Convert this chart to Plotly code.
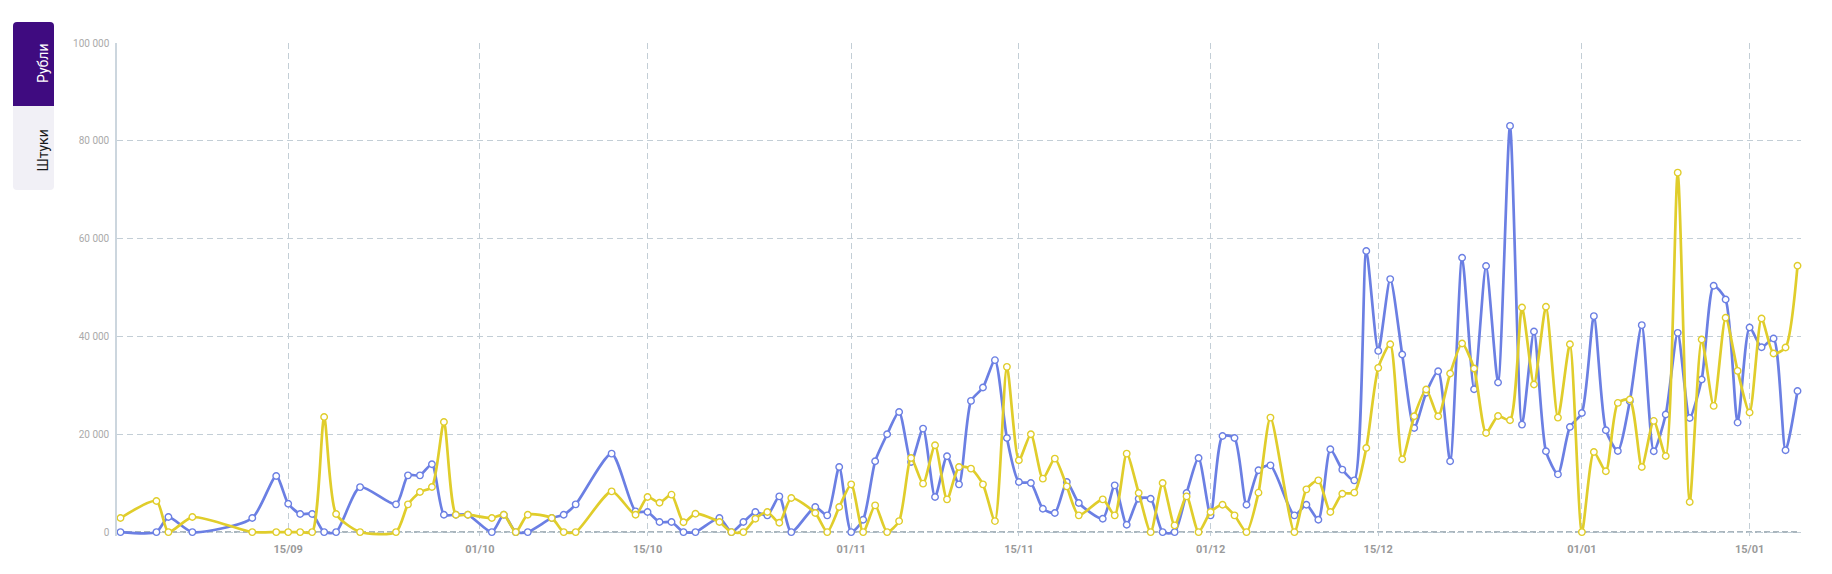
import plotly.graph_objects as go

dates = [
    "2023-09-01", "2023-09-04", "2023-09-05", "2023-09-07", "2023-09-12", "2023-09-14", "2023-09-15",
    "2023-09-16", "2023-09-17", "2023-09-18", "2023-09-19", "2023-09-21", "2023-09-24", "2023-09-25",
    "2023-09-26", "2023-09-27", "2023-09-28", "2023-09-29", "2023-09-30",
    "2023-10-02", "2023-10-03", "2023-10-04", "2023-10-05", "2023-10-07", "2023-10-08", "2023-10-09",
    "2023-10-12", "2023-10-14", "2023-10-15", "2023-10-16", "2023-10-17", "2023-10-18", "2023-10-19",
    "2023-10-21", "2023-10-22", "2023-10-23", "2023-10-24", "2023-10-25", "2023-10-26", "2023-10-27",
    "2023-10-29", "2023-10-30", "2023-10-31",
    "2023-11-01", "2023-11-02", "2023-11-03", "2023-11-04", "2023-11-05", "2023-11-06", "2023-11-07",
    "2023-11-08", "2023-11-09", "2023-11-10", "2023-11-11", "2023-11-12", "2023-11-13", "2023-11-14",
    "2023-11-15", "2023-11-16", "2023-11-17", "2023-11-18", "2023-11-19", "2023-11-20", "2023-11-22",
    "2023-11-23", "2023-11-24", "2023-11-25", "2023-11-26", "2023-11-27", "2023-11-28", "2023-11-29",
    "2023-11-30",
    "2023-12-01", "2023-12-02", "2023-12-03", "2023-12-04", "2023-12-05", "2023-12-06", "2023-12-08",
    "2023-12-09", "2023-12-10", "2023-12-11", "2023-12-12", "2023-12-13", "2023-12-14", "2023-12-15",
    "2023-12-16", "2023-12-17", "2023-12-18", "2023-12-19", "2023-12-20", "2023-12-21", "2023-12-22",
    "2023-12-23", "2023-12-24", "2023-12-25", "2023-12-26", "2023-12-27", "2023-12-28", "2023-12-29",
    "2023-12-30", "2023-12-31",
    "2024-01-01", "2024-01-02", "2024-01-03", "2024-01-04", "2024-01-05", "2024-01-06", "2024-01-07",
    "2024-01-08", "2024-01-09", "2024-01-10", "2024-01-11", "2024-01-12", "2024-01-13", "2024-01-14",
    "2024-01-15", "2024-01-16", "2024-01-17", "2024-01-18", "2024-01-19",
]

blue_values = [
    0, 0, 3070, 0, 2870, 11460, 5800, 3700, 3700, 0, 0, 9200, 5670, 11600, 11600, 13860, 3560, 3560, 3560,
    0, 3560, 0, 0, 2870, 3560, 5670, 16040, 4240, 4100, 2050, 2050, 0, 0, 2870, 0, 2050, 4100, 3420,
    7300, 0, 5120, 3420, 13300,
    0, 2530, 14470, 20000, 24560, 14330, 21160, 7170, 15500, 9760, 26820, 29550, 35150, 19240, 10240,
    10030, 4780, 3890, 10240, 5940, 2730, 9560, 1500, 6830, 6830, 0, 0, 7990, 15150,
    3420, 19650, 19240, 5600, 12630, 13650, 3420, 5600, 2530, 16930, 12770, 10580, 57460, 37050,
    51730, 36310, 21290, 28500, 32900, 14470, 56090, 29210, 54390, 30580, 83050, 21980, 41000, 16520,
    11810, 21500,
    24360, 44150, 20820, 16580, 26750, 42310, 16520, 24030, 40740, 23340, 31190, 50360, 47570, 22390,
    41840, 37800, 39580, 16720, 28860,
]

yellow_values = [
    2870, 6350, 0, 3070, 0, 0, 0, 0, 0, 23540, 3700, 0, 0, 5670, 8190, 9210, 22520, 3560, 3560,
    2870, 3560, 0, 3560, 2870, 0, 0, 8330, 3560, 7170, 6010, 7650, 2000, 3760, 2050, 0, 0, 2730, 4100,
    1910, 6960, 3890, 0, 5120,
    9760, 0, 5460, 0, 2250, 15150, 9900, 17750, 6690, 13300, 12970, 9760, 2250, 33780, 14680,
    20000, 10930, 15020, 9350, 3420, 6690, 3420, 16040, 7990, 0, 10030, 1370, 7300, 0,
    4100, 5600, 3420, 0, 8060, 23410, 0, 8740, 10580, 4100, 7850, 8060, 17200, 33580,
    38420, 14880, 23680, 29150, 23680, 32420, 38560, 33450, 20270, 23750, 22860, 45930, 30170, 46060,
    23410, 38420,
    0, 16380, 12430, 26410, 27100, 13300, 22730, 15560, 73490, 6140, 39380, 25800, 43810, 32960,
    24440, 43680, 36520, 37740, 54450,
]

x_tick_dates = ["2023-09-15", "2023-10-01", "2023-10-15", "2023-11-01", "2023-11-15",
                "2023-12-01", "2023-12-15", "2024-01-01", "2024-01-15"]
x_tick_labels = ["15/09", "01/10", "15/10", "01/11", "15/11", "01/12", "15/12", "01/01", "15/01"]
y_tick_values = [0, 20000, 40000, 60000, 80000, 100000]
y_tick_labels = ["0", "20 000", "40 000", "60 000", "80 000", "100 000"]

button_labels = ["Рубли", "Штуки"]

BLUE = "#6b7fe3"
YELLOW = "#e0cd2b"

fig = go.Figure()
for vals, col in [(blue_values, BLUE), (yellow_values, YELLOW)]:
    fig.add_trace(go.Scatter(
        x=dates, y=vals, mode="lines+markers",
        line=dict(color=col, width=2.7, shape="spline", smoothing=0.65),
        marker=dict(size=6.5, color="white", line=dict(color=col, width=1.4)),
        cliponaxis=False, showlegend=False,
    ))

# pixel geometry of plot area
L, T = 117.0, 43.0
PW = 1684.0          # includes ~4px extra on the right (range padding)
Y_MIN = -800
PH = 489.0 * (100000 - Y_MIN) / 100000.0
R = 1832 - L - PW
B = 574 - T - PH

GRID = "#c3ced6"
fig.update_layout(
    width=1832, height=574,
    margin=dict(l=L, r=R, t=T, b=B, autoexpand=False),
    paper_bgcolor="white", plot_bgcolor="white",
    font=dict(family="Roboto, Arial, sans-serif"),
    xaxis=dict(
        type="date", range=["2023-08-31 17:00", "2024-01-19 07:00"],
        tickvals=x_tick_dates, ticktext=x_tick_labels,
        showgrid=True, gridcolor=GRID, griddash="6px,4px", gridwidth=1,
        zeroline=False, showline=False, ticks="",
        tickfont=dict(size=11, color="#9a9a9a", family="Roboto, Arial, sans-serif", weight="bold"),
        ticklabelstandoff=5,
    ),
    yaxis=dict(
        range=[Y_MIN, 100000], tickvals=y_tick_values, ticktext=y_tick_labels,
        showgrid=True, gridcolor=GRID, griddash="6px,4px", gridwidth=1,
        zeroline=False, showline=True, linecolor="#ccd6de", linewidth=1.5,
        ticks="", tickfont=dict(size=10, color="#aaaaaa"),
        ticklabelstandoff=4,
    ),
)

# darker baseline at 0
fig.add_shape(type="line", xref="paper", yref="y", x0=0, x1=(1681.0 / PW), y0=0, y1=0,
              line=dict(color="#8e9ea9", width=1.5, dash="6px,3px"), layer="below")

# left toggle buttons (pixel -> paper conversion)
def px(x):
    return (x - L) / PW
def py(y):
    return (T + PH - y) / PH

x0, x1 = px(13), px(54)
ya, yb, yc = py(22), py(106), py(190)
rx, ry = 4 / PW, 4 / PH
path_top = (f"M {x0},{yb} L {x0},{ya - ry} Q {x0},{ya} {x0 + rx},{ya} "
            f"L {x1 - rx},{ya} Q {x1},{ya} {x1},{ya - ry} L {x1},{yb} Z")
path_bot = (f"M {x0},{yb} L {x1},{yb} L {x1},{yc + ry} Q {x1},{yc} {x1 - rx},{yc} "
            f"L {x0 + rx},{yc} Q {x0},{yc} {x0},{yc + ry} Z")
fig.add_shape(type="path", xref="paper", yref="paper", path=path_top,
              fillcolor="#3f0b80", line=dict(width=0))
fig.add_shape(type="path", xref="paper", yref="paper", path=path_bot,
              fillcolor="#f1f0f6", line=dict(width=0))
fig.add_annotation(xref="paper", yref="paper", x=px(33.5), y=py(42), text=button_labels[0],
                   showarrow=False, textangle=-90, font=dict(size=14, color="white"))
fig.add_annotation(xref="paper", yref="paper", x=px(33.5), y=py(128), text=button_labels[1],
                   showarrow=False, textangle=-90, font=dict(size=14, color="#1a1a1a"))

fig.write_html("out.html", config={"displayModeBar": False},
               post_script="document.body.style.margin='0';document.body.style.padding='0';"
                           "document.documentElement.style.overflow='hidden';")
